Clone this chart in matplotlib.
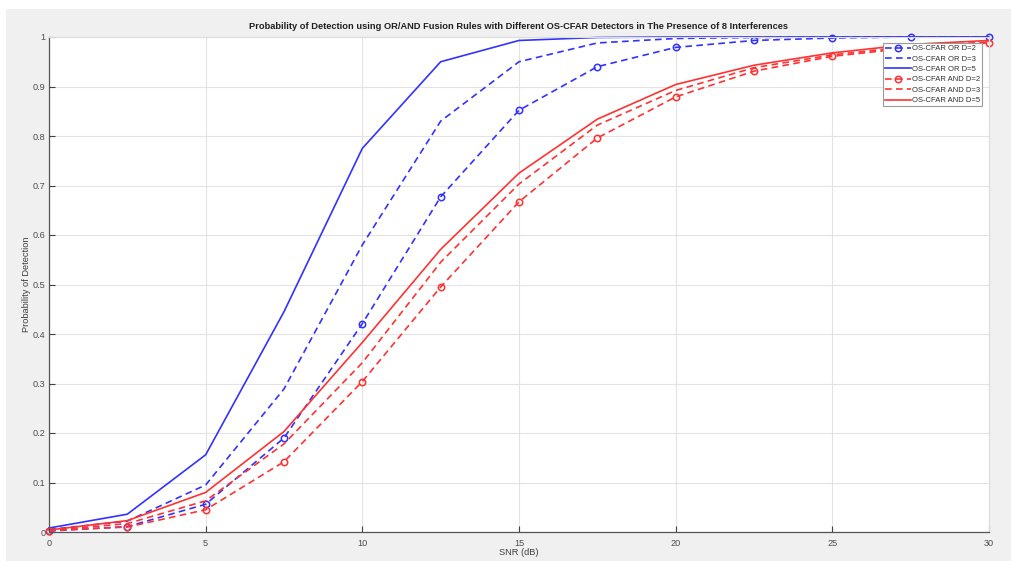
import matplotlib
matplotlib.use("Agg")
import matplotlib.pyplot as plt
from matplotlib.patches import Rectangle

snr = [0, 2.5, 5, 7.5, 10, 12.5, 15, 17.5, 20, 22.5, 25, 27.5, 30]

or_d2 = [0.002, 0.011, 0.056, 0.190, 0.421, 0.677, 0.852, 0.940, 0.979, 0.993, 0.998, 1.0, 1.0]
or_d3 = [0.005, 0.022, 0.095, 0.289, 0.580, 0.830, 0.950, 0.988, 0.997, 0.999, 1.0, 1.0, 1.0]
or_d5 = [0.008, 0.036, 0.156, 0.445, 0.775, 0.950, 0.993, 0.999, 1.0, 1.0, 1.0, 1.0, 1.0]
and_d2 = [0.003, 0.010, 0.045, 0.142, 0.304, 0.495, 0.667, 0.796, 0.879, 0.931, 0.961, 0.978, 0.988]
and_d3 = [0.003, 0.017, 0.063, 0.178, 0.342, 0.545, 0.703, 0.822, 0.892, 0.938, 0.964, 0.981, 0.990]
and_d5 = [0.004, 0.023, 0.080, 0.203, 0.383, 0.571, 0.725, 0.834, 0.904, 0.943, 0.968, 0.985, 0.993]

labels = ["OS-CFAR OR D=2", "OS-CFAR OR D=3", "OS-CFAR OR D=5",
          "OS-CFAR AND D=2", "OS-CFAR AND D=3", "OS-CFAR AND D=5"]

title = "Probability of Detection using OR/AND Fusion Rules with Different OS-CFAR Detectors in The Presence of 8 Interferences"
xlabel = "SNR (dB)"
ylabel = "Probability of Detection"
xticks = [0, 5, 10, 15, 20, 25, 30]
yticks = [0, 0.1, 0.2, 0.3, 0.4, 0.5, 0.6, 0.7, 0.8, 0.9, 1]

plt.rcParams['font.family'] = ['Liberation Sans', 'DejaVu Sans']

W, H = 1012, 561
fig = plt.figure(figsize=(W / 100, H / 100), dpi=100, facecolor='white')
fig.patches.append(Rectangle((6 / W, 0), 1 - 6 / W, 1 - 9 / H, transform=fig.transFigure,
                             facecolor='#f0f0f0', edgecolor='none', zorder=-10))

ax = fig.add_axes([49 / W, 1 - 532 / H, (989 - 49) / W, (532 - 37) / H])
ax.set_facecolor('white')

blue = '#3232ff'
red = '#ff3232'
lw = 1.2
dash = (4, 2.6)

series = [
    (or_d2, blue, True, True),
    (or_d3, blue, True, False),
    (or_d5, blue, False, False),
    (and_d2, red, True, True),
    (and_d3, red, True, False),
    (and_d5, red, False, False),
]
for (ys, c, dashed, marker), lab in zip(series, labels):
    line, = ax.plot(snr, ys, color=c, lw=lw, label=lab,
                    marker='o' if marker else None, markersize=4.6,
                    markerfacecolor='none', markeredgewidth=1.1, clip_on=False)
    if dashed:
        line.set_dashes(dash)

ax.set_xlim(0, 30)
ax.set_ylim(0, 1)
ax.set_xticks(xticks)
ax.set_yticks(yticks)
ax.set_xticklabels([str(t) for t in xticks])
ax.set_yticklabels(['0'] + [f'{t:g}' for t in yticks[1:]])
ax.grid(True, color='#e3e3e3', lw=0.8)
ax.set_axisbelow(True)
ax.tick_params(direction='in', length=4, width=0.8, colors='#404040', labelsize=6.6,
               labelcolor='#4d4d4d', top=False, right=False)
ax.tick_params(axis='x', pad=5)
ax.tick_params(axis='y', pad=2.5)
for s in ['left', 'bottom']:
    ax.spines[s].set_color('#555555')
    ax.spines[s].set_linewidth(0.9)
for s in ['top', 'right']:
    ax.spines[s].set_color('#dcdcdc')
    ax.spines[s].set_linewidth(0.8)

ax.set_title(title, fontsize=6.7, fontweight='bold', color='#202020', pad=6)
ax.set_xlabel(xlabel, fontsize=6.7, color='#404040', labelpad=0)
ax.set_ylabel(ylabel, fontsize=6.7, color='#404040')
ax.yaxis.set_label_coords((31 - 49) / 940, 0.5)

leg = ax.legend(loc='upper right', fontsize=5.5, frameon=True, fancybox=False,
                handlelength=3.4, handletextpad=0.15, borderpad=0.25, labelspacing=0.4,
                borderaxespad=0, bbox_to_anchor=((982 - 49) / 940, (532 - 44) / 494))
leg.get_frame().set_edgecolor('#9a9a9a')
leg.get_frame().set_linewidth(0.8)
leg.get_frame().set_alpha(1)
for t in leg.get_texts():
    t.set_color('#303030')

fig.savefig('out.png', dpi=100, facecolor=fig.get_facecolor())
